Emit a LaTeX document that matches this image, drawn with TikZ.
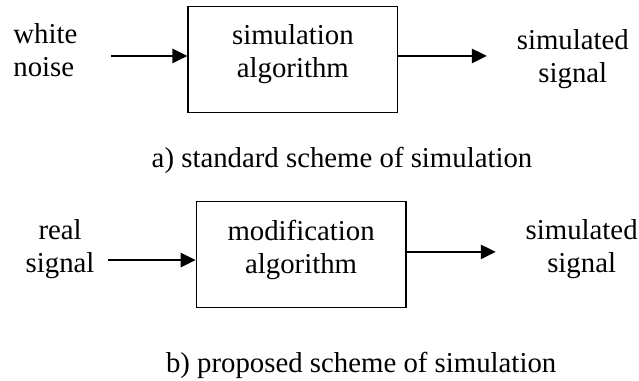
\documentclass[tikz,border=0pt]{standalone}
\usepackage{fontspec}
\setmainfont{Liberation Serif}
\usetikzlibrary{arrows.meta,positioning,calc}

\begin{document}
\begin{tikzpicture}[font=\fontsize{12}{13.75}\selectfont,
    block/.style={draw, line width=0.6pt, minimum width=3.07cm, minimum height=1.55cm, inner sep=0pt},
    txt/.style={align=center, inner sep=0pt},
    flow/.style={line width=0.6pt, -{Triangle[length=6.2pt, width=6pt]}}]
  \useasboundingbox (0, 0) rectangle (9.36, 5.58);

  % a) standard scheme
  \node[block, label={[txt, yshift=2.1pt]center:simulation\\algorithm}] (simbox) at (4.29, 4.71) {};
  \node[txt, align=left, anchor=west] (noise) at (0.19, 4.85) {white\\noise};
  \node[txt] (simout) at (8.39, 4.71) {simulated\\signal};
  \coordinate (noisein) at (1.63, 4.76);
  \coordinate (simend) at (7.13, 4.76);
  \draw[flow] (noisein) -- (noisein -| simbox.west);
  \draw[flow] (simend -| simbox.east) -- (simend);
  \node[anchor=base] (capa) at (5.01, 3.12) {a) standard scheme of simulation};

  % b) proposed scheme
  \node[block, label={[txt, yshift=2.1pt]center:modification\\algorithm}] (modbox) at (4.41, 1.85) {};
  \node[txt] (real) at (0.88, 1.93) {real\\signal};
  \node[txt] (modout) at (8.52, 1.93) {simulated\\signal};
  \coordinate (realin) at (1.58, 1.77);
  \coordinate (modend) at (7.26, 1.89);
  \draw[flow] (realin) -- (realin -| modbox.west);
  \draw[flow] (modend -| modbox.east) -- (modend);
  \node[anchor=base] (capb) at (5.29, 0.13) {b) proposed scheme of simulation};
\end{tikzpicture}
\end{document}
